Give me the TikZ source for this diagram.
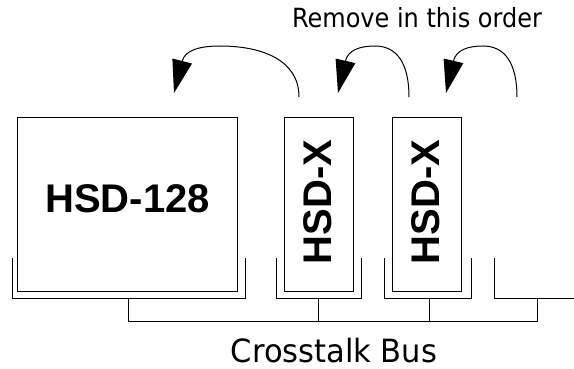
\documentclass[tikz,border=0pt]{standalone}
\usepackage{fontspec}
\setmainfont{Liberation Sans}
\newfontfamily\thinfont{DejaVu Sans}
\usetikzlibrary{arrows.meta}
\begin{document}
\begin{tikzpicture}[x=1pt,y=-1pt,
  line width=1pt,
  card/.style={draw=black, line width=1pt, rectangle, inner sep=0pt},
  cardlabel/.style={font=\bfseries\fontsize{40}{48}\selectfont, inner sep=0pt},
  slotline/.style={draw=black, line width=1pt},
  busline/.style={draw=black, line width=1pt},
  removearrow/.style={draw=black, line width=1pt, -{Triangle[length=33pt,width=20pt]}},
  caption/.style={font=\thinfont\fontsize{24}{28}\selectfont, inner sep=0pt, yscale=1.1},
  buscaption/.style={font=\thinfont\fontsize{30.5}{36}\selectfont, inner sep=0pt, yscale=1.05}]
\useasboundingbox (0,0) rectangle (574,369);
\fill[white] (0,0) rectangle (574,369);

% cards
\node[card, minimum width=220pt, minimum height=173pt] (big) at (127,204.5) {};
\node[card, minimum width=69pt, minimum height=173pt] (x1) at (318.5,204.5) {};
\node[card, minimum width=69pt, minimum height=173pt] (x2) at (426.5,204.5) {};

\node[cardlabel, anchor=base] (bigl) at (127.5,212) {HSD-128};
\node[cardlabel, anchor=base, rotate=90] (x1l) at (331,202) {HSD-X};
\node[cardlabel, anchor=base, rotate=90] (x2l) at (439,202) {HSD-X};

% slots
\coordinate (s1a) at (12,258);  \coordinate (s1b) at (245,258);
\coordinate (s2a) at (276,258); \coordinate (s2b) at (361,258);
\coordinate (s3a) at (384,258); \coordinate (s3b) at (471,258);
\coordinate (s4a) at (494,258); \coordinate (s4b) at (574,298);
\draw[slotline] (s1a) -- ++(0,40) -| (s1b);
\draw[slotline] (s2a) -- ++(0,40) -| (s2b);
\draw[slotline] (s3a) -- ++(0,40) -| (s3b);
\draw[slotline] (s4a) |- (s4b);

% bus
\coordinate (t1) at (128,298);
\coordinate (t2) at (318,298);
\coordinate (t3) at (429,298);
\coordinate (t4) at (537,298);
\draw[busline] (t1) -- ++(0,23) -| (t4);
\draw[busline] (t2) -- ++(0,23);
\draw[busline] (t3) -- ++(0,23);

\node[buscaption, anchor=base] (bus) at (334,362) {Crosstalk Bus};

% removal arrows
\node[caption, anchor=base] (order) at (417,28) {Remove in this order};
\coordinate (a1s) at (299,97); \coordinate (a1e) at (174,93);
\coordinate (a2s) at (409,97); \coordinate (a2e) at (338,93);
\coordinate (a3s) at (517,97); \coordinate (a3e) at (446,93);
\draw[removearrow] (a1s) .. controls (299,60) and (262,46) .. (220,46)
  .. controls (200,46) and (185,50) .. (a1e);
\draw[removearrow] (a2s) .. controls (409,62) and (396,46) .. (375,46)
  .. controls (360,46) and (348,50) .. (a2e);
\draw[removearrow] (a3s) .. controls (517,62) and (504,46) .. (483,46)
  .. controls (468,46) and (456,50) .. (a3e);
\end{tikzpicture}
\end{document}
